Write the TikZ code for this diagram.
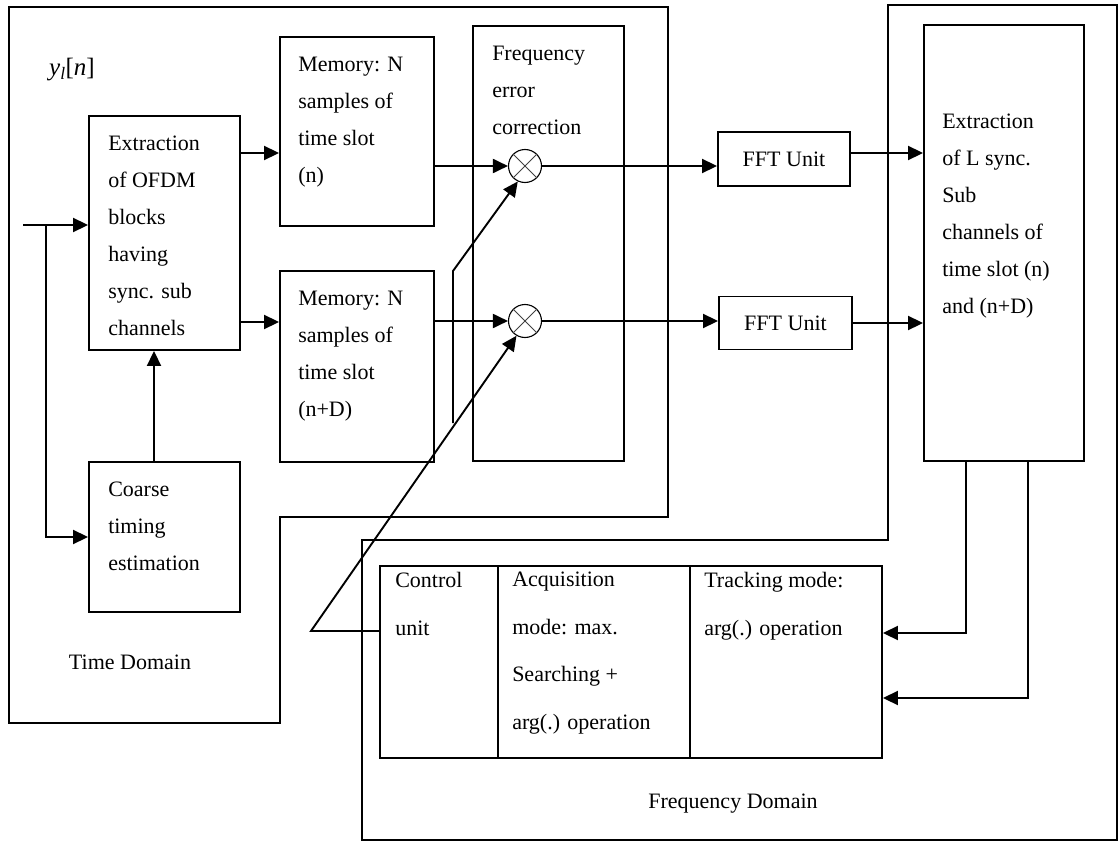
\documentclass[tikz,border=0pt]{standalone}
\usepackage{fontspec}
\setmainfont{Liberation Serif}
\usetikzlibrary{positioning,arrows.meta}
\tikzset{
  blk/.style={draw,line width=1.9pt,inner sep=0pt,font=\fontsize{22}{26}\selectfont},
  txt/.style={anchor=north west,inner sep=0pt,align=left,font=\fontsize{22}{37}\selectfont},
  celltxt/.style={txt,font=\fontsize{22}{47.5}\selectfont},
  lbl/.style={inner sep=0pt,font=\fontsize{22}{26}\selectfont},
  mult/.style={circle,draw,line width=1.1pt,minimum size=33pt,inner sep=0pt},
  xline/.style={line width=0.8pt,black!75},
  arr/.style={line width=1.9pt,-{Triangle[length=15pt,width=14pt]}},
  dom/.style={line width=1.9pt}
}
\begin{document}
\begin{tikzpicture}[x=1pt,y=-1pt]
\useasboundingbox (0,0) rectangle (1120,843);
% domain outlines
\draw[dom] (9,7) -- (668,7) -- (668,517) -- (280,517) -- (280,723) -- (9,723) -- cycle;
\draw[dom] (888,5) -- (1117,5) -- (1117,840) -- (362,840) -- (362,540) -- (888,540) -- cycle;
% time domain blocks
\node[blk,minimum width=151pt,minimum height=234pt] (ext) at (164.5,233) {};
\node[blk,minimum width=151pt,minimum height=150pt] (coarse) at (164.5,537) {};
\node[blk,minimum width=154pt,minimum height=189pt] (mem1) at (357,131.5) {};
\node[blk,minimum width=154pt,minimum height=191pt] (mem2) at (357,366.5) {};
\node[blk,minimum width=151pt,minimum height=435pt] (fec) at (548.5,243.5) {};
\node[mult] (m1) at (525,166) {};
\node[mult] (m2) at (525,321) {};
\draw[xline] (m1.45) -- (m1.225) (m1.135) -- (m1.315);
\draw[xline] (m2.45) -- (m2.225) (m2.135) -- (m2.315);
\node[txt] (ext-t) at ([shift={(20,21)}]ext.north west) {Extraction\\of OFDM\\blocks\\having\\sync. sub\\channels};
\node[txt] (coarse-t) at ([shift={(20,21)}]coarse.north west) {Coarse\\timing\\estimation};
\node[txt] (mem1-t) at ([shift={(19,21)}]mem1.north west) {Memory: N\\samples of\\time slot\\(n)};
\node[txt] (mem2-t) at ([shift={(19,21)}]mem2.north west) {Memory: N\\samples of\\time slot\\(n+D)};
\node[txt] (fec-t) at ([shift={(20,21)}]fec.north west) {Frequency\\error\\correction};
\node[lbl,font=\fontsize{25}{28}\selectfont] (ylab) at (72,70) {\textit{y}\textsubscript{\textit{l}}[\textit{n}]};
\node[lbl] (tdlab) at (130,662) {Time Domain};
% frequency domain blocks
\node[blk,minimum width=132pt,minimum height=54pt] (fft1) at (784,159) {FFT Unit};
\node[blk,minimum width=133pt,minimum height=53pt] (fft2) at (785.5,323) {FFT Unit};
\node[blk,minimum width=160pt,minimum height=436pt] (extL) at (1004,243) {};
\node[txt] (extL-t) at ([shift={(19,90)}]extL.north west) {Extraction\\of L sync.\\Sub\\channels of\\time slot (n)\\and (n+D)};
\node[blk,minimum width=118pt,minimum height=192pt] (ctl) at (439,662) {};
\node[blk,minimum width=192pt,minimum height=192pt] (acq) at (594,662) {};
\node[blk,minimum width=192pt,minimum height=192pt] (trk) at (786,662) {};
\node[celltxt] (ctl-t) at ([shift={(16,7)}]ctl.north west) {Control\\unit};
\node[celltxt] (acq-t) at ([shift={(15,7)}]acq.north west) {Acquisition\\mode: max.\\Searching +\\arg(.) operation};
\node[celltxt] (trk-t) at ([shift={(15,7)}]trk.north west) {Tracking mode:\\arg(.) operation};
\node[lbl] (fdlab) at (733,804) {Frequency Domain};
% connectors
\coordinate (yin) at (23,225);
\coordinate (split) at (46,225);
\coordinate (row1) at (0,153);
\coordinate (row2) at (0,322);
\draw[arr] (yin) -- (ext.west |- yin);
\draw[arr] (split) |- (coarse.west);
\draw[arr] ([xshift=-10.5pt]coarse.north) -- ([xshift=-10.5pt]ext.south);
\draw[arr] (ext.east |- row1) -- (mem1.west |- row1);
\draw[arr] (ext.east |- row2) -- (mem2.west |- row2);
\draw[arr] (mem1.east |- m1) -- (m1.west);
\draw[arr] (mem2.east |- m2) -- (m2.west);
\draw[arr] (m1.east) -- (m1 -| fft1.west);
\draw[arr] (m2.east) -- (m2 -| fft2.west);
\draw[arr] (fft1.east |- row1) -- (extL.west |- row1);
\draw[arr] (fft2.east) -- (fft2 -| extL.west);
\coordinate (d1) at (966,633);
\coordinate (d2) at (1028,698);
\draw[arr] (extL.south -| d1) -- (d1) -- (trk.east |- d1);
\draw[arr] (extL.south -| d2) -- (d2) -- (trk.east |- d2);
\coordinate (ctlbend) at (311,631);
\draw[arr] (ctl.west |- ctlbend) -- (ctlbend) -- (m2.240);
\coordinate (fecbot) at (453,423);
\coordinate (fecbend) at (453,271);
\draw[arr] (fecbot) -- (fecbend) -- (m1.245);
\end{tikzpicture}
\end{document}
